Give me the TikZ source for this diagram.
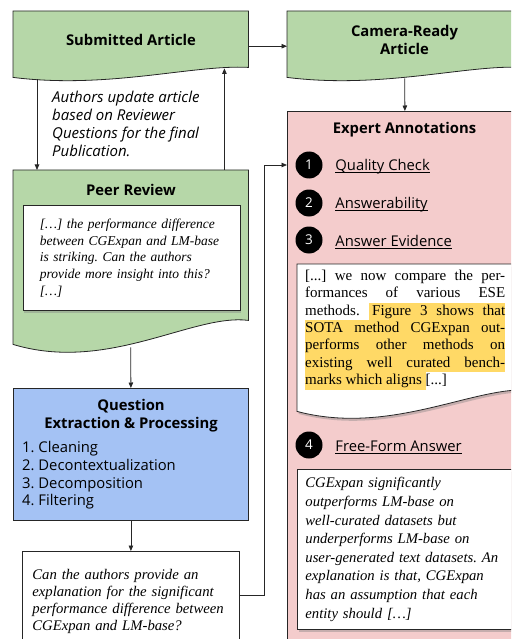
\documentclass[tikz,border=0pt]{standalone}
\usepackage{fontspec}
\setmainfont{Open Sans}
\newfontfamily\serif{Liberation Serif}
\usetikzlibrary{positioning,shadows,arrows.meta}

\definecolor{docgreen}{HTML}{B6D7A8}
\definecolor{procblue}{HTML}{A4C2F4}
\definecolor{annotpink}{HTML}{F4CCCC}
\definecolor{hlyellow}{HTML}{FFD966}
\setlength{\fboxsep}{0pt}
\frenchspacing

% document shape with a wavy bottom, drawn round an empty frame node
\newcommand{\wavedoc}[3]{%
  \path[#1] (#2.south west) -- (#2.north west) -- (#2.north east)
    -- ([yshift=#3pt]#2.south east)
    .. controls +(-55pt,{0.3*#3pt}) and +(95pt,{-1.2*#3pt}) .. (#2.south west) -- cycle;}
\newcommand{\hlline}[2]{\colorbox{hlyellow}{\makebox[#1][s]{\strut #2}}}
\newcommand{\annotul}[1]{\setbox0\hbox{#1}\rlap{\rule[-2.4pt]{\wd0}{0.8pt}}\box0}

\tikzset{
  frame/.style={anchor=north west, inner sep=0pt, minimum width=235pt},
  border/.style={draw=black!85, line width=0.8pt},
  greendoc/.style={border, fill=docgreen},
  whitedoc/.style={border, fill=white, drop shadow={shadow xshift=1.5pt, shadow yshift=-2.5pt, opacity=0.4}},
  textbox/.style={border, fill=white, anchor=north west, align=left, inner ysep=0pt},
  quotebox/.style={textbox, whitedoc},
  title/.style={align=center, inner sep=0pt, font=\bfseries\fontsize{14.8}{18}\selectfont},
  plain/.style={anchor=north west, align=left, inner sep=0pt},
  num/.style={circle, fill=black, text=white, minimum size=27pt, inner sep=0pt, font=\fontsize{13.5}{13.5}\selectfont},
  itemlbl/.style={inner sep=0pt, font=\fontsize{14.8}{17}\selectfont},
  arr/.style={draw=black!85, line width=0.8pt, -{Triangle[length=5.5pt,width=4.5pt]}},
}

\begin{document}
\begin{tikzpicture}[x=1pt, y=1pt]
\useasboundingbox (0,0) rectangle (511,-639);
\clip (0,0) rectangle (511,-639);

% frames
\node[frame, minimum height=66pt] (sub) at (13,-11) {};
\wavedoc{greendoc}{sub}{10}
\node[frame, minimum height=66pt] (cam) at (287,-11) {};
\wavedoc{greendoc}{cam}{10}
\node[frame, minimum height=174pt] (peer) at (13,-170) {};
\wavedoc{greendoc}{peer}{24}
\node[frame, minimum height=132pt, border, fill=procblue] (qep) at (13,-388) {};
\node[frame, minimum height=540pt, border, fill=annotpink] (exp) at (287,-111) {};
\node[frame, minimum height=147pt] (evd) at (297,-264) {};
\wavedoc{whitedoc}{evd}{21}

% titles
\node[title] (subT) at (131,-40) {Submitted Article};
\node[title] (camT) at (404.5,-40) {Camera-Ready\\Article};
\node[title] (peerT) at (131,-190) {Peer Review};
\node[title] (qepT) at (131,-415.5) {Question\\Extraction \& Processing};
\node[title] (expT) at (404.5,-130) {Expert Annotations};

\node[plain, font=\itshape\fontsize{15}{18}\selectfont] (upd) at (52,-90.5)
  {Authors update article\\based on Reviewer\\Questions for the final\\Publication.};

\node[quotebox, minimum width=217pt, minimum height=105pt, text width=183pt, inner xsep=17pt,
  font=\serif\itshape\fontsize{13.5}{16.7}\selectfont] (rev) at (22.5,-205)
  {[…] the performance difference\\between CGExpan and LM-base\\is striking. Can the authors\\provide more insight into this?\\\relax […]};

\node[plain, font=\fontsize{14.8}{17.6}\selectfont] (qlist) at (22,-441.5)
  {1. Cleaning\\2. Decontextualization\\3. Decomposition\\4. Filtering};

\node[textbox, minimum width=217pt, minimum height=100pt, text width=197pt, inner xsep=10pt,
  font=\serif\itshape\fontsize{14.7}{17}\selectfont] (final) at (22,-551)
  {Can the authors provide an\\explanation for the significant\\performance difference between\\CGExpan and LM-base?};

% annotation steps
\node[num] (c1) at (309,-165) {1};
\node[num] (c2) at (309,-203) {2};
\node[num] (c3) at (309,-240) {3};
\node[num] (c4) at (309,-445) {4};
\node[itemlbl, right=12.5pt of c1, yshift=-2pt] (l1) {\annotul{Quality Check}};
\node[itemlbl, right=12.5pt of c2, yshift=-2pt] (l2) {\annotul{Answerability}};
\node[itemlbl, right=12.5pt of c3, yshift=-2pt] (l3) {\annotul{Answer Evidence}};
\node[itemlbl, right=12.5pt of c4, yshift=-2pt] (l4) {\annotul{Free-Form Answer}};

\node[plain, font=\serif\fontsize{15}{17.3}\selectfont] (evtxt) at (305,-270)
  {\makebox[200pt][s]{[...] we now compare the per-}\\%
\makebox[200pt][s]{formances of various ESE}\\%
\makebox[200pt][s]{methods.\hfil\hlline{136pt}{\hspace{3pt}Figure 3 shows that}}\\%
\hlline{200pt}{SOTA method CGExpan out-}\\%
\hlline{200pt}{performs other methods on}\\%
\hlline{200pt}{existing well curated bench-}\\%
\colorbox{hlyellow}{\strut marks which aligns\ }[...]};

\node[quotebox, minimum width=235pt, minimum height=160pt, text width=219pt, inner xsep=8pt,
  font=\serif\itshape\fontsize{14.7}{18.6}\selectfont] (ans) at (297,-469)
  {CGExpan significantly\\outperforms LM-base on\\well-curated datasets but\\underperforms LM-base on\\user-generated text datasets. An\\explanation is that, CGExpan\\has an assumption that each\\entity should […]};

% connectors
\draw[arr] ([xshift=24pt,yshift=-2pt]sub.south west) -- ([xshift=24pt]peer.north west);
\draw[arr] ([xshift=-24pt]peer.north east) -- ([xshift=-24pt,yshift=9pt]sub.south east);
\draw[arr] ([yshift=-2pt]sub.east) -- ([yshift=-2pt]cam.west);
\draw[arr] ([yshift=-1pt]cam.south) -- (exp.north);
\draw[arr] ([yshift=-3pt]peer.south) -- (qep.north);
\draw[arr] (qep.south) -- (final.north);
\draw[arr] ([yshift=-44pt]final.north east) -- ++(25pt,0) |- (c1 -| exp.west);
\end{tikzpicture}
\end{document}
